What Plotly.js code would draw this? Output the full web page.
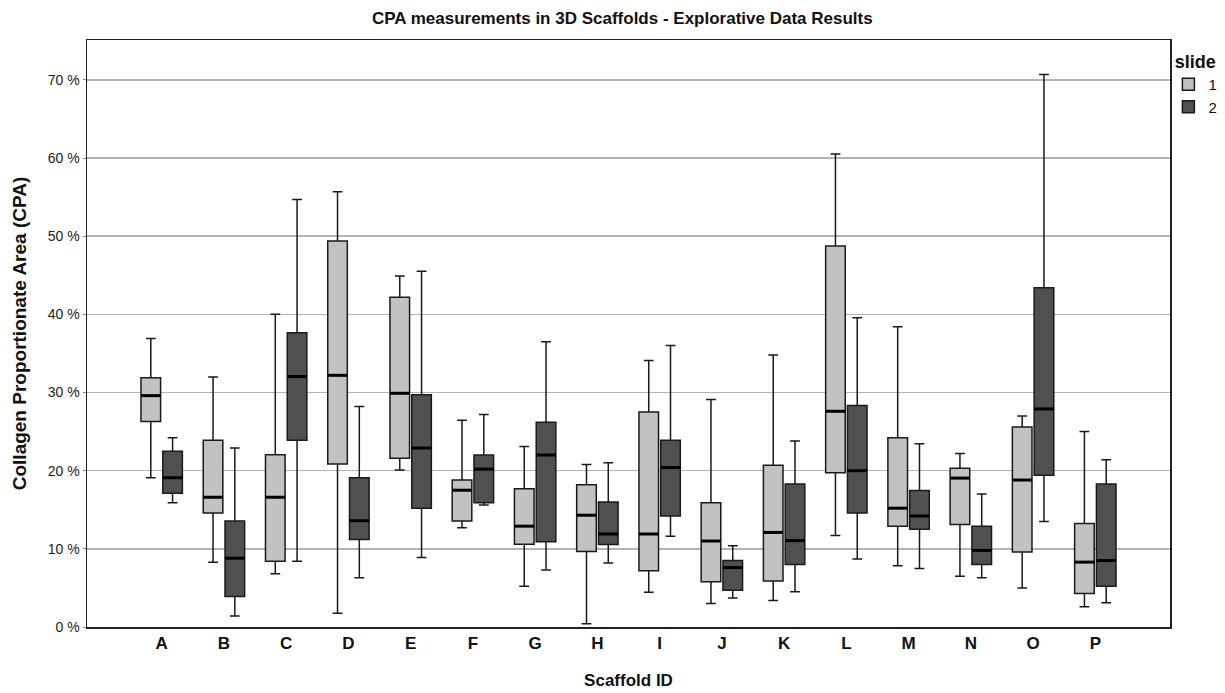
<!DOCTYPE html>
<html>
<head>
<meta charset="utf-8">
<script src="https://cdn.plot.ly/plotly-3.0.1.min.js"></script>
<style>html,body{margin:0;padding:0;background:#fff;}#chart{width:1225px;height:693px;}</style>
</head>
<body>
<div id="chart"></div>
<script>
// Scaffold categories
const scaffolds = ['A','B','C','D','E','F','G','H','I','J','K','L','M','N','O','P'];

// Slide 1 box statistics (CPA, %)
const s1Lower  = [19.1, 8.3, 6.8, 1.75, 20.1, 12.7, 5.2, 0.4, 4.45, 3.0, 3.4, 11.7, 7.85, 6.5, 5.0, 2.6];
const s1Q1     = [26.3, 14.6, 8.4, 20.85, 21.6, 13.55, 10.6, 9.65, 7.2, 5.8, 5.9, 19.75, 12.9, 13.1, 9.6, 4.3];
const s1Median = [29.6, 16.6, 16.6, 32.2, 29.9, 17.5, 12.9, 14.3, 11.9, 11.0, 12.1, 27.6, 15.2, 19.05, 18.8, 8.3];
const s1Q3     = [31.9, 23.9, 22.05, 49.4, 42.2, 18.8, 17.7, 18.2, 27.5, 15.9, 20.7, 48.75, 24.2, 20.3, 25.6, 13.25];
const s1Upper  = [36.9, 32.0, 40.0, 55.7, 44.9, 26.45, 23.1, 20.8, 34.1, 29.1, 34.8, 60.5, 38.4, 22.2, 27.0, 25.0];

// Slide 2 box statistics (CPA, %)
const s2Lower  = [15.9, 1.4, 8.4, 6.3, 8.9, 15.6, 7.3, 8.2, 11.6, 3.7, 4.5, 8.7, 7.5, 6.3, 13.5, 3.1];
const s2Q1     = [17.1, 3.9, 23.9, 11.2, 15.2, 15.9, 10.9, 10.55, 14.2, 4.7, 8.0, 14.6, 12.5, 8.0, 19.4, 5.2];
const s2Median = [19.1, 8.8, 32.05, 13.6, 22.9, 20.2, 22.0, 11.9, 20.4, 7.6, 11.05, 20.0, 14.2, 9.8, 27.9, 8.5];
const s2Q3     = [22.5, 13.55, 37.65, 19.1, 29.7, 22.0, 26.2, 16.0, 23.9, 8.5, 18.3, 28.35, 17.45, 12.9, 43.4, 18.3];
const s2Upper  = [24.2, 22.9, 54.7, 28.2, 45.5, 27.2, 36.5, 21.0, 36.0, 10.4, 23.8, 39.55, 23.45, 17.0, 70.7, 21.4];

const yTicks = [0, 10, 20, 30, 40, 50, 60, 70];

const BOXGAP = 0.3, BOXGROUPGAP = 0.1;
const FONT = 'Liberation Sans, Arial, sans-serif';

function boxTrace(name, fill, lf, q1, med, q3, uf) {
  return {
    type: 'box', name: name, x: scaffolds,
    lowerfence: lf, q1: q1, median: med, q3: q3, upperfence: uf,
    fillcolor: fill,
    line: {color: '#1a1a1a', width: 1.5},
    whiskerwidth: 0.5,
    boxpoints: false,
    hoverinfo: 'skip'
  };
}

const traces = [
  boxTrace('1', '#c2c2c2', s1Lower, s1Q1, s1Median, s1Q3, s1Upper),
  boxTrace('2', '#505050', s2Lower, s2Q1, s2Median, s2Q3, s2Upper)
];

// thicker median bars, positioned with the same group geometry Plotly uses
const slot = (1 - BOXGAP) / 2;
const halfW = slot * (1 - BOXGROUPGAP) / 2;
const shapes = [];
[[s1Median, -slot/2], [s2Median, slot/2]].forEach(([meds, off]) => {
  meds.forEach((m, i) => {
    shapes.push({type: 'line', xref: 'x', yref: 'y', layer: 'above',
      x0: i + off - halfW, x1: i + off + halfW, y0: m, y1: m,
      line: {color: '#000', width: 3}});
  });
});

const layout = {
  width: 1225, height: 693,
  margin: {l: 87, r: 55, t: 40, b: 66, autoexpand: false},
  paper_bgcolor: '#fff', plot_bgcolor: '#fff',
  font: {family: FONT, color: '#111'},
  title: {text: '<b>CPA measurements in 3D Scaffolds - Explorative Data Results</b>',
    font: {family: FONT, size: 17, color: '#111'},
    xref: 'container', x: 0.508, xanchor: 'center',
    yref: 'container', y: 0.974, yanchor: 'middle'},
  boxmode: 'group', boxgap: BOXGAP, boxgroupgap: BOXGROUPGAP,
  xaxis: {
    type: 'category', categoryarray: scaffolds, range: [-1.2, 16.2],
    showgrid: false, zeroline: false,
    showline: true, linecolor: '#222', linewidth: 1.5, mirror: true,
    ticks: '', tickfont: {family: FONT, size: 17, color: '#111', weight: 'bold'},
    title: {text: '<b>Scaffold ID</b>', font: {family: FONT, size: 17, color: '#111'}, standoff: 22}
  },
  yaxis: {
    range: [0, 75.1], tickvals: yTicks, ticktext: yTicks.map(v => v + ' %'),
    showgrid: true, gridcolor: '#b4b4b4', gridwidth: 1.5, zeroline: false,
    showline: true, linecolor: '#222', linewidth: 1.5, mirror: true,
    ticks: 'outside', ticklen: 3, tickcolor: '#888',
    tickfont: {family: FONT, size: 14, color: '#222'},
    title: {text: '<b>Collagen Proportionate Area (CPA)</b>', font: {family: FONT, size: 19, color: '#111'}, standoff: 16}
  },
  legend: {
    title: {text: '<b>slide</b>', font: {family: FONT, size: 18, color: '#111'}, side: 'top center'},
    font: {family: FONT, size: 15, color: '#111'},
    x: 0.9985, xanchor: 'left', y: 0.992, yanchor: 'top',
    itemwidth: 30, tracegroupgap: 0, bgcolor: 'rgba(0,0,0,0)'
  },
  shapes: shapes
};

Plotly.newPlot('chart', traces, layout, {displayModeBar: false, staticPlot: true});
</script>
</body>
</html>
